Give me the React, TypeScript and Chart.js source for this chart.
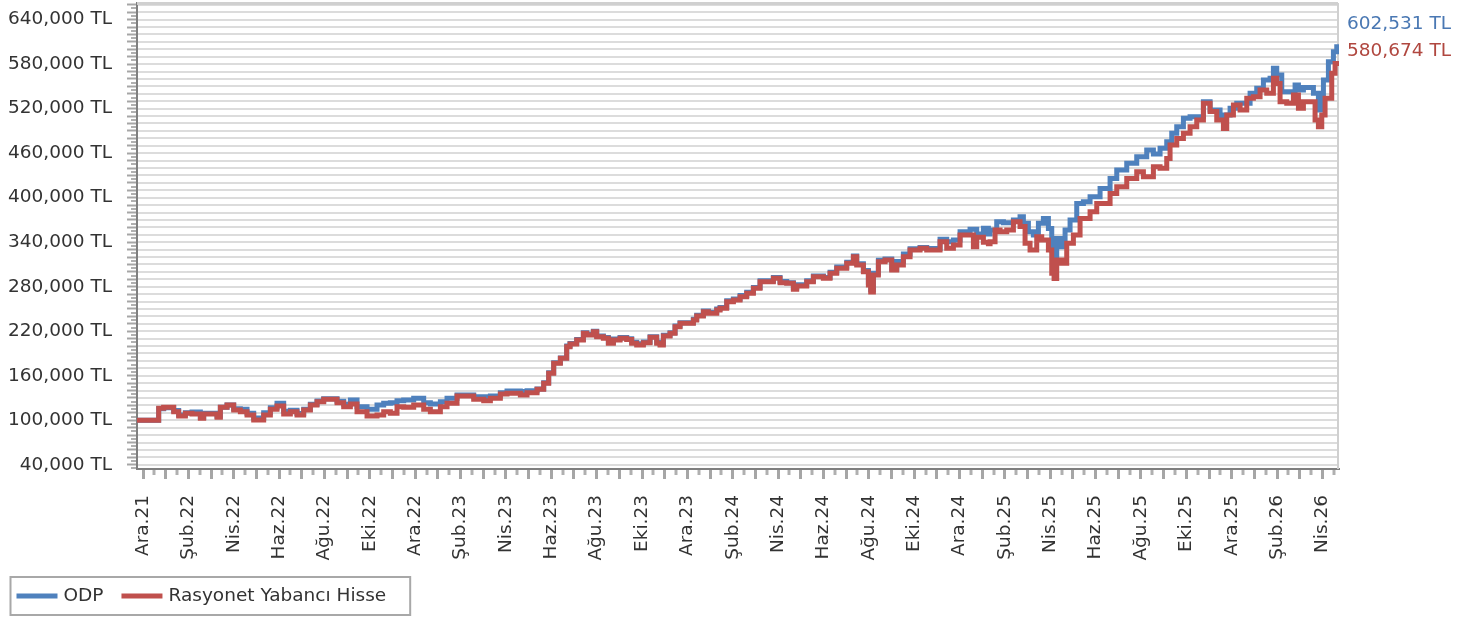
import React, { useEffect, useRef } from 'react';
import { Chart, registerables } from 'chart.js';

Chart.register(...registerables);

const FONT_FAMILY = '"DejaVu Sans", Verdana, sans-serif';
const FONT_SIZE = 18.5;
const TEXT_COLOR = '#333333';

// Tick labels every two months, starting at Ara.21 (month 0)
const xTickLabels = [
  'Ara.21', 'Şub.22', 'Nis.22', 'Haz.22', 'Ağu.22', 'Eki.22', 'Ara.22',
  'Şub.23', 'Nis.23', 'Haz.23', 'Ağu.23', 'Eki.23', 'Ara.23',
  'Şub.24', 'Nis.24', 'Haz.24', 'Ağu.24', 'Eki.24', 'Ara.24',
  'Şub.25', 'Nis.25', 'Haz.25', 'Ağu.25', 'Eki.25', 'Ara.25',
  'Şub.26', 'Nis.26',
];

const seriesNames = ['ODP', 'Rasyonet Yabancı Hisse'];
const seriesColors = ['#4f81bd', '#c0504d'];
const endLabelColors = ['#4a78b3', '#b0473f'];

// Dates of each step (months after 1 Ara.21) and values (thousand TL)
const odpMonths = [
  -0.265, 0.691, 0.911, 1.352, 1.573, 1.867, 2.16, 2.528, 2.675, 3.263,
  3.41, 3.704, 3.998, 4.292, 4.586, 4.88, 5.32, 5.614, 5.908, 6.202,
  6.496, 6.79, 7.084, 7.378, 7.672, 7.966, 8.554, 8.848, 9.142, 9.436,
  9.877, 10.317, 10.611, 10.905, 11.199, 11.493, 11.934, 12.375, 12.669, 13.11,
  13.404, 13.845, 14.58, 15.315, 15.755, 16.049, 16.637, 16.931, 17.372, 17.666,
  17.886, 18.107, 18.401, 18.68, 18.827, 19.121, 19.415, 19.562, 19.856, 20.003,
  20.297, 20.517, 20.738, 21.032, 21.326, 21.546, 21.767, 22.061, 22.355, 22.648,
  22.795, 22.942, 23.236, 23.457, 23.677, 24.265, 24.412, 24.706, 24.927, 25.294,
  25.441, 25.735, 26.029, 26.323, 26.617, 26.911, 27.205, 27.792, 28.086, 28.38,
  28.674, 28.821, 29.262, 29.556, 29.997, 30.291, 30.585, 31.026, 31.32, 31.467,
  31.761, 31.981, 32.084, 32.202, 32.422, 32.716, 33.01, 33.231, 33.524, 33.818,
  34.259, 34.553, 35.141, 35.435, 35.729, 36.023, 36.464, 36.758, 37.052, 37.272,
  37.346, 37.639, 37.934, 38.375, 38.668, 38.815, 39.036, 39.256, 39.477, 39.697,
  39.918, 40.065, 40.168, 40.285, 40.506, 40.653, 40.873, 41.167, 41.461, 41.755,
  42.196, 42.637, 42.931, 43.372, 43.812, 44.253, 44.547, 44.841, 45.135, 45.356,
  45.576, 45.87, 46.164, 46.752, 47.046, 47.487, 47.634, 47.928, 48.222, 48.81,
  49.103, 49.397, 49.691, 49.838, 49.985, 50.206, 50.794, 50.941, 51.161, 51.602,
  51.822, 52.043, 52.263, 52.484, 52.631,
];
const odpValues = [
  100.0, 115.5, 117.0, 113.0, 107.0, 110.0, 111.0, 104.0, 109.5, 105.5,
  117.5, 120.6, 115.5, 114.8, 109.4, 103.0, 110.0, 117.0, 123.0, 112.0,
  113.5, 109.0, 115.0, 121.5, 126.0, 129.0, 125.5, 121.5, 127.3, 118.3,
  114.8, 120.6, 122.8, 123.7, 126.4, 127.3, 129.6, 123.7, 121.9, 125.1,
  129.6, 134.1, 131.8, 132.7, 137.2, 139.5, 138.6, 139.9, 142.0, 150.5,
  164.0, 177.5, 184.0, 200.0, 203.5, 209.0, 218.0, 215.8, 220.0, 213.5,
  211.5, 205.0, 209.5, 211.5, 210.0, 205.0, 203.0, 205.5, 212.5, 205.0,
  203.0, 214.5, 218.0, 227.0, 231.5, 236.0, 241.5, 247.3, 245.5, 249.8,
  252.0, 261.0, 263.5, 268.0, 272.5, 279.0, 288.0, 292.5, 287.0, 285.5,
  278.5, 282.5, 288.0, 294.5, 292.5, 299.5, 306.5, 313.0, 321.5, 311.0,
  302.0, 286.0, 276.0, 298.0, 315.5, 317.5, 304.0, 314.0, 324.0, 331.0,
  333.0, 331.5, 343.9, 340.7, 343.0, 354.2, 357.5, 351.0, 358.7, 351.0,
  356.4, 367.6, 366.3, 369.9, 374.4, 365.4, 354.2, 349.7, 365.4, 372.0,
  358.6, 329.5, 320.5, 345.0, 334.0, 356.4, 370.0, 392.3, 394.6, 401.3,
  412.5, 426.0, 437.3, 446.3, 455.3, 464.2, 458.8, 466.5, 475.5, 486.7,
  495.7, 506.9, 509.2, 529.4, 518.2, 507.0, 511.4, 520.4, 527.2, 540.6,
  547.4, 558.6, 560.9, 574.3, 565.3, 542.9, 551.8, 545.0, 548.5, 540.6,
  518.2, 558.6, 583.3, 596.8, 603.5,
];

const rasyonetMonths = [
  -0.265, 0.691, 0.911, 1.352, 1.573, 1.867, 2.16, 2.528, 2.675, 3.263,
  3.41, 3.704, 3.998, 4.292, 4.586, 4.88, 5.32, 5.614, 5.908, 6.202,
  6.496, 6.79, 7.084, 7.378, 7.672, 7.966, 8.554, 8.848, 9.142, 9.436,
  9.877, 10.317, 10.611, 10.905, 11.199, 11.493, 11.934, 12.375, 12.669, 13.11,
  13.404, 13.845, 14.58, 15.021, 15.315, 15.755, 16.049, 16.637, 16.931, 17.372,
  17.666, 17.886, 18.107, 18.401, 18.68, 18.827, 19.121, 19.415, 19.562, 19.856,
  20.003, 20.297, 20.517, 20.738, 21.032, 21.326, 21.546, 21.767, 22.061, 22.355,
  22.648, 22.795, 22.942, 23.236, 23.457, 23.677, 24.265, 24.412, 24.706, 24.927,
  25.294, 25.441, 25.735, 26.029, 26.323, 26.617, 26.911, 27.205, 27.792, 28.086,
  28.38, 28.674, 28.821, 29.262, 29.556, 29.997, 30.291, 30.585, 31.026, 31.32,
  31.467, 31.761, 31.981, 32.084, 32.202, 32.422, 32.716, 33.01, 33.231, 33.524,
  33.818, 34.259, 34.553, 35.141, 35.435, 35.729, 36.023, 36.611, 36.758, 37.052,
  37.272, 37.346, 37.566, 37.787, 38.081, 38.375, 38.668, 38.889, 39.109, 39.403,
  39.624, 39.918, 40.065, 40.168, 40.285, 40.506, 40.726, 41.02, 41.314, 41.755,
  42.049, 42.637, 42.931, 43.372, 43.812, 44.106, 44.547, 44.841, 45.135, 45.282,
  45.576, 45.87, 46.164, 46.458, 46.752, 47.046, 47.34, 47.634, 47.781, 48.075,
  48.369, 48.663, 48.956, 49.25, 49.544, 49.838, 49.985, 50.132, 50.426, 50.72,
  50.941, 51.161, 51.675, 51.822, 51.97, 52.116, 52.41, 52.557,
];
const rasyonetValues = [
  100.0, 116.1, 117.5, 111.6, 105.8, 109.4, 108.5, 102.6, 108.5, 104.0,
  117.5, 120.6, 113.9, 111.6, 107.1, 100.4, 107.1, 114.8, 119.2, 108.5,
  111.6, 107.1, 113.9, 120.6, 125.1, 128.2, 123.7, 118.3, 121.9, 111.6,
  105.8, 107.1, 111.6, 109.4, 118.3, 117.5, 120.6, 114.8, 111.6, 118.3,
  122.8, 132.7, 128.2, 126.4, 129.6, 135.4, 136.3, 134.1, 137.2, 141.7,
  149.8, 163.3, 176.8, 183.5, 199.2, 202.8, 208.2, 217.2, 214.9, 219.4,
  212.6, 210.4, 203.7, 208.2, 210.4, 209.0, 203.7, 201.5, 204.6, 211.8,
  203.7, 201.5, 213.7, 217.2, 226.1, 230.6, 235.1, 240.5, 246.3, 244.1,
  248.6, 250.9, 259.8, 262.1, 266.6, 271.1, 277.8, 286.8, 291.3, 285.4,
  284.5, 276.5, 281.0, 286.8, 293.5, 291.3, 298.0, 304.8, 311.5, 320.5,
  309.3, 300.3, 282.3, 273.0, 295.8, 313.7, 316.0, 302.5, 309.3, 320.5,
  329.5, 331.8, 329.5, 340.7, 331.8, 336.3, 349.7, 334.0, 346.6, 340.0,
  338.0, 340.7, 356.4, 354.2, 356.4, 367.6, 361.0, 338.5, 329.5, 347.4,
  343.0, 329.5, 298.0, 291.0, 316.0, 311.5, 338.5, 349.7, 372.0, 381.0,
  392.3, 405.7, 414.7, 426.0, 435.0, 428.2, 441.7, 439.5, 452.9, 471.0,
  479.9, 486.7, 495.7, 504.7, 527.2, 516.0, 504.7, 493.4, 511.4, 525.0,
  518.2, 534.0, 536.0, 545.0, 540.6, 561.0, 554.0, 529.4, 527.2, 538.4,
  520.4, 529.4, 504.7, 495.7, 511.4, 534.0, 567.6, 581.0,
];
const lastValues = [602531, 580674];

// x axis in months from Ara.21
const X_MIN = -0.265;
const X_MAX = 52.73;

const Y_MIN = 34300;
const Y_MAX = 662400;
const Y_GRID_STEP = 10000;
const Y_LABEL_FROM = 40000;
const Y_LABEL_STEP = 60000;

function toPoints(months: number[], values: number[], last: number) {
  const pts = months.map((m, i) => ({ x: m, y: values[i] * 1000 }));
  pts.push({ x: X_MAX, y: last });
  return pts;
}

function fmtTL(v: number) {
  return Math.round(v).toLocaleString('en-US') + ' TL';
}

const decorPlugin = {
  id: 'decor',
  beforeDatasetsDraw(chart: any) {
    const { ctx, chartArea: a, scales } = chart;
    const ys = scales.y;
    ctx.save();
    ctx.strokeStyle = '#dcdcdc';
    ctx.lineWidth = 2;
    for (let v = Y_LABEL_FROM; v <= Y_MAX; v += Y_GRID_STEP) {
      const py = Math.round(ys.getPixelForValue(v));
      ctx.beginPath();
      ctx.moveTo(a.left + 1, py);
      ctx.lineTo(a.right, py);
      ctx.stroke();
    }
    ctx.strokeStyle = '#d0d0d0';
    ctx.lineWidth = 3;
    ctx.beginPath();
    ctx.moveTo(a.left, a.top + 0.5);
    ctx.lineTo(a.right - 1, a.top + 0.5);
    ctx.stroke();
    ctx.lineWidth = 2;
    ctx.beginPath();
    ctx.moveTo(a.right - 1, a.top);
    ctx.lineTo(a.right - 1, a.bottom);
    ctx.stroke();
    ctx.restore();
  },
  afterDraw(chart: any) {
    const { ctx, chartArea: a, scales } = chart;
    const xs = scales.x;
    const ys = scales.y;
    ctx.save();
    ctx.strokeStyle = '#b0b0b0';
    ctx.lineWidth = 3;
    for (let m = 0.5; m <= X_MAX; m += 1) {
      const px = Math.round(xs.getPixelForValue(m));
      ctx.beginPath();
      ctx.moveTo(px, a.bottom + 1);
      ctx.lineTo(px, a.bottom + 6);
      ctx.stroke();
    }
    ctx.lineWidth = 2;
    for (let v = Y_LABEL_FROM - 5000; v <= Y_MAX; v += Y_GRID_STEP) {
      const py = Math.round(ys.getPixelForValue(v));
      ctx.beginPath();
      ctx.moveTo(a.left - 6, py);
      ctx.lineTo(a.left - 1, py);
      ctx.stroke();
    }
    ctx.font = `${FONT_SIZE}px ${FONT_FAMILY}`;
    ctx.textAlign = 'left';
    ctx.textBaseline = 'middle';
    lastValues.forEach((v, i) => {
      ctx.fillStyle = endLabelColors[i];
      ctx.fillText(fmtTL(v), a.right + 8, a.top + 21.5 + i * 26.5);
    });
    const boxLeft = 10.5;
    const boxTop = chart.height - 44;
    const boxH = 38;
    let cx = boxLeft + 6;
    const cy = boxTop + boxH / 2;
    seriesNames.forEach((name, i) => {
      const w = ctx.measureText(name).width;
      ctx.strokeStyle = seriesColors[i];
      ctx.lineWidth = 5;
      ctx.beginPath();
      ctx.moveTo(cx, cy);
      ctx.lineTo(cx + 41, cy);
      ctx.stroke();
      ctx.fillStyle = TEXT_COLOR;
      ctx.fillText(name, cx + 47, cy + 0.5);
      cx += 47 + w + 18;
    });
    const boxRight = cx - 18 + 24;
    ctx.strokeStyle = '#a8a8a8';
    ctx.lineWidth = 2;
    ctx.strokeRect(boxLeft, boxTop, boxRight - boxLeft, boxH);
    ctx.restore();
  },
};

export default function App() {
  const canvasRef = useRef<HTMLCanvasElement | null>(null);

  useEffect(() => {
    document.body.style.margin = '0';
    const canvas = canvasRef.current;
    if (!canvas) return;

    const common = {
      borderWidth: 5,
      pointRadius: 0,
      stepped: true,
      fill: false,
      borderJoinStyle: 'miter',
      borderCapStyle: 'butt',
    };

    const chart = new Chart(canvas, {
      type: 'line',
      data: {
        datasets: [
          {
            ...common,
            label: seriesNames[0],
            data: toPoints(odpMonths, odpValues, lastValues[0]),
            borderColor: seriesColors[0],
            backgroundColor: seriesColors[0],
            order: 1,
          },
          {
            ...common,
            label: seriesNames[1],
            data: toPoints(rasyonetMonths, rasyonetValues, lastValues[1]),
            borderColor: seriesColors[1],
            backgroundColor: seriesColors[1],
            order: 0,
          },
        ],
      },
      options: {
        animation: false,
        responsive: false,
        devicePixelRatio: 1,
        layout: { padding: { top: 3, right: 134, left: 0, bottom: 0 } },
        plugins: {
          legend: { display: false },
          tooltip: { enabled: false },
        },
        scales: {
          x: {
            type: 'linear',
            min: X_MIN,
            max: X_MAX,
            afterBuildTicks: (scale: any) => {
              const t = [];
              for (let m = 0; m <= 52; m += 1) t.push({ value: m });
              scale.ticks = t;
            },
            afterFit: (scale: any) => {
              scale.height = 152;
              scale.paddingLeft = 0;
              scale.paddingRight = 0;
            },
            grid: {
              display: true,
              drawOnChartArea: false,
              drawTicks: true,
              tickLength: 10,
              tickWidth: 3,
              tickColor: '#a6a6a6',
            },
            border: { display: true, color: '#7f7f7f', width: 2 },
            ticks: {
              autoSkip: false,
              minRotation: 90,
              maxRotation: 90,
              padding: 16,
              color: TEXT_COLOR,
              font: { family: FONT_FAMILY, size: FONT_SIZE },
              callback: (v: any) => {
                const m = Math.round(Number(v));
                return m % 2 === 0 ? xTickLabels[m / 2] ?? '' : '';
              },
            },
          },
          y: {
            type: 'linear',
            min: Y_MIN,
            max: Y_MAX,
            afterBuildTicks: (scale: any) => {
              const t = [];
              for (let v = Y_LABEL_FROM; v <= Y_MAX; v += Y_GRID_STEP) t.push({ value: v });
              scale.ticks = t;
            },
            afterFit: (scale: any) => {
              scale.width = 137;
              scale.paddingTop = 0;
              scale.paddingBottom = 0;
            },
            grid: {
              display: true,
              drawOnChartArea: false,
              drawTicks: true,
              tickLength: 10,
              tickWidth: 2,
              tickColor: '#a6a6a6',
            },
            border: { display: true, color: '#7f7f7f', width: 2 },
            ticks: {
              autoSkip: false,
              padding: 15,
              color: TEXT_COLOR,
              font: { family: FONT_FAMILY, size: FONT_SIZE },
              callback: (v: any) => {
                const n = Number(v);
                return (n - Y_LABEL_FROM) % Y_LABEL_STEP === 0 ? fmtTL(n) : '';
              },
            },
          },
        },
      },
      plugins: [decorPlugin],
    } as any);

    return () => chart.destroy();
  }, []);

  return (
    <div style={{ width: 1473, height: 621, background: '#ffffff' }}>
      <canvas ref={canvasRef} width={1473} height={621} style={{ display: 'block' }} />
    </div>
  );
}
